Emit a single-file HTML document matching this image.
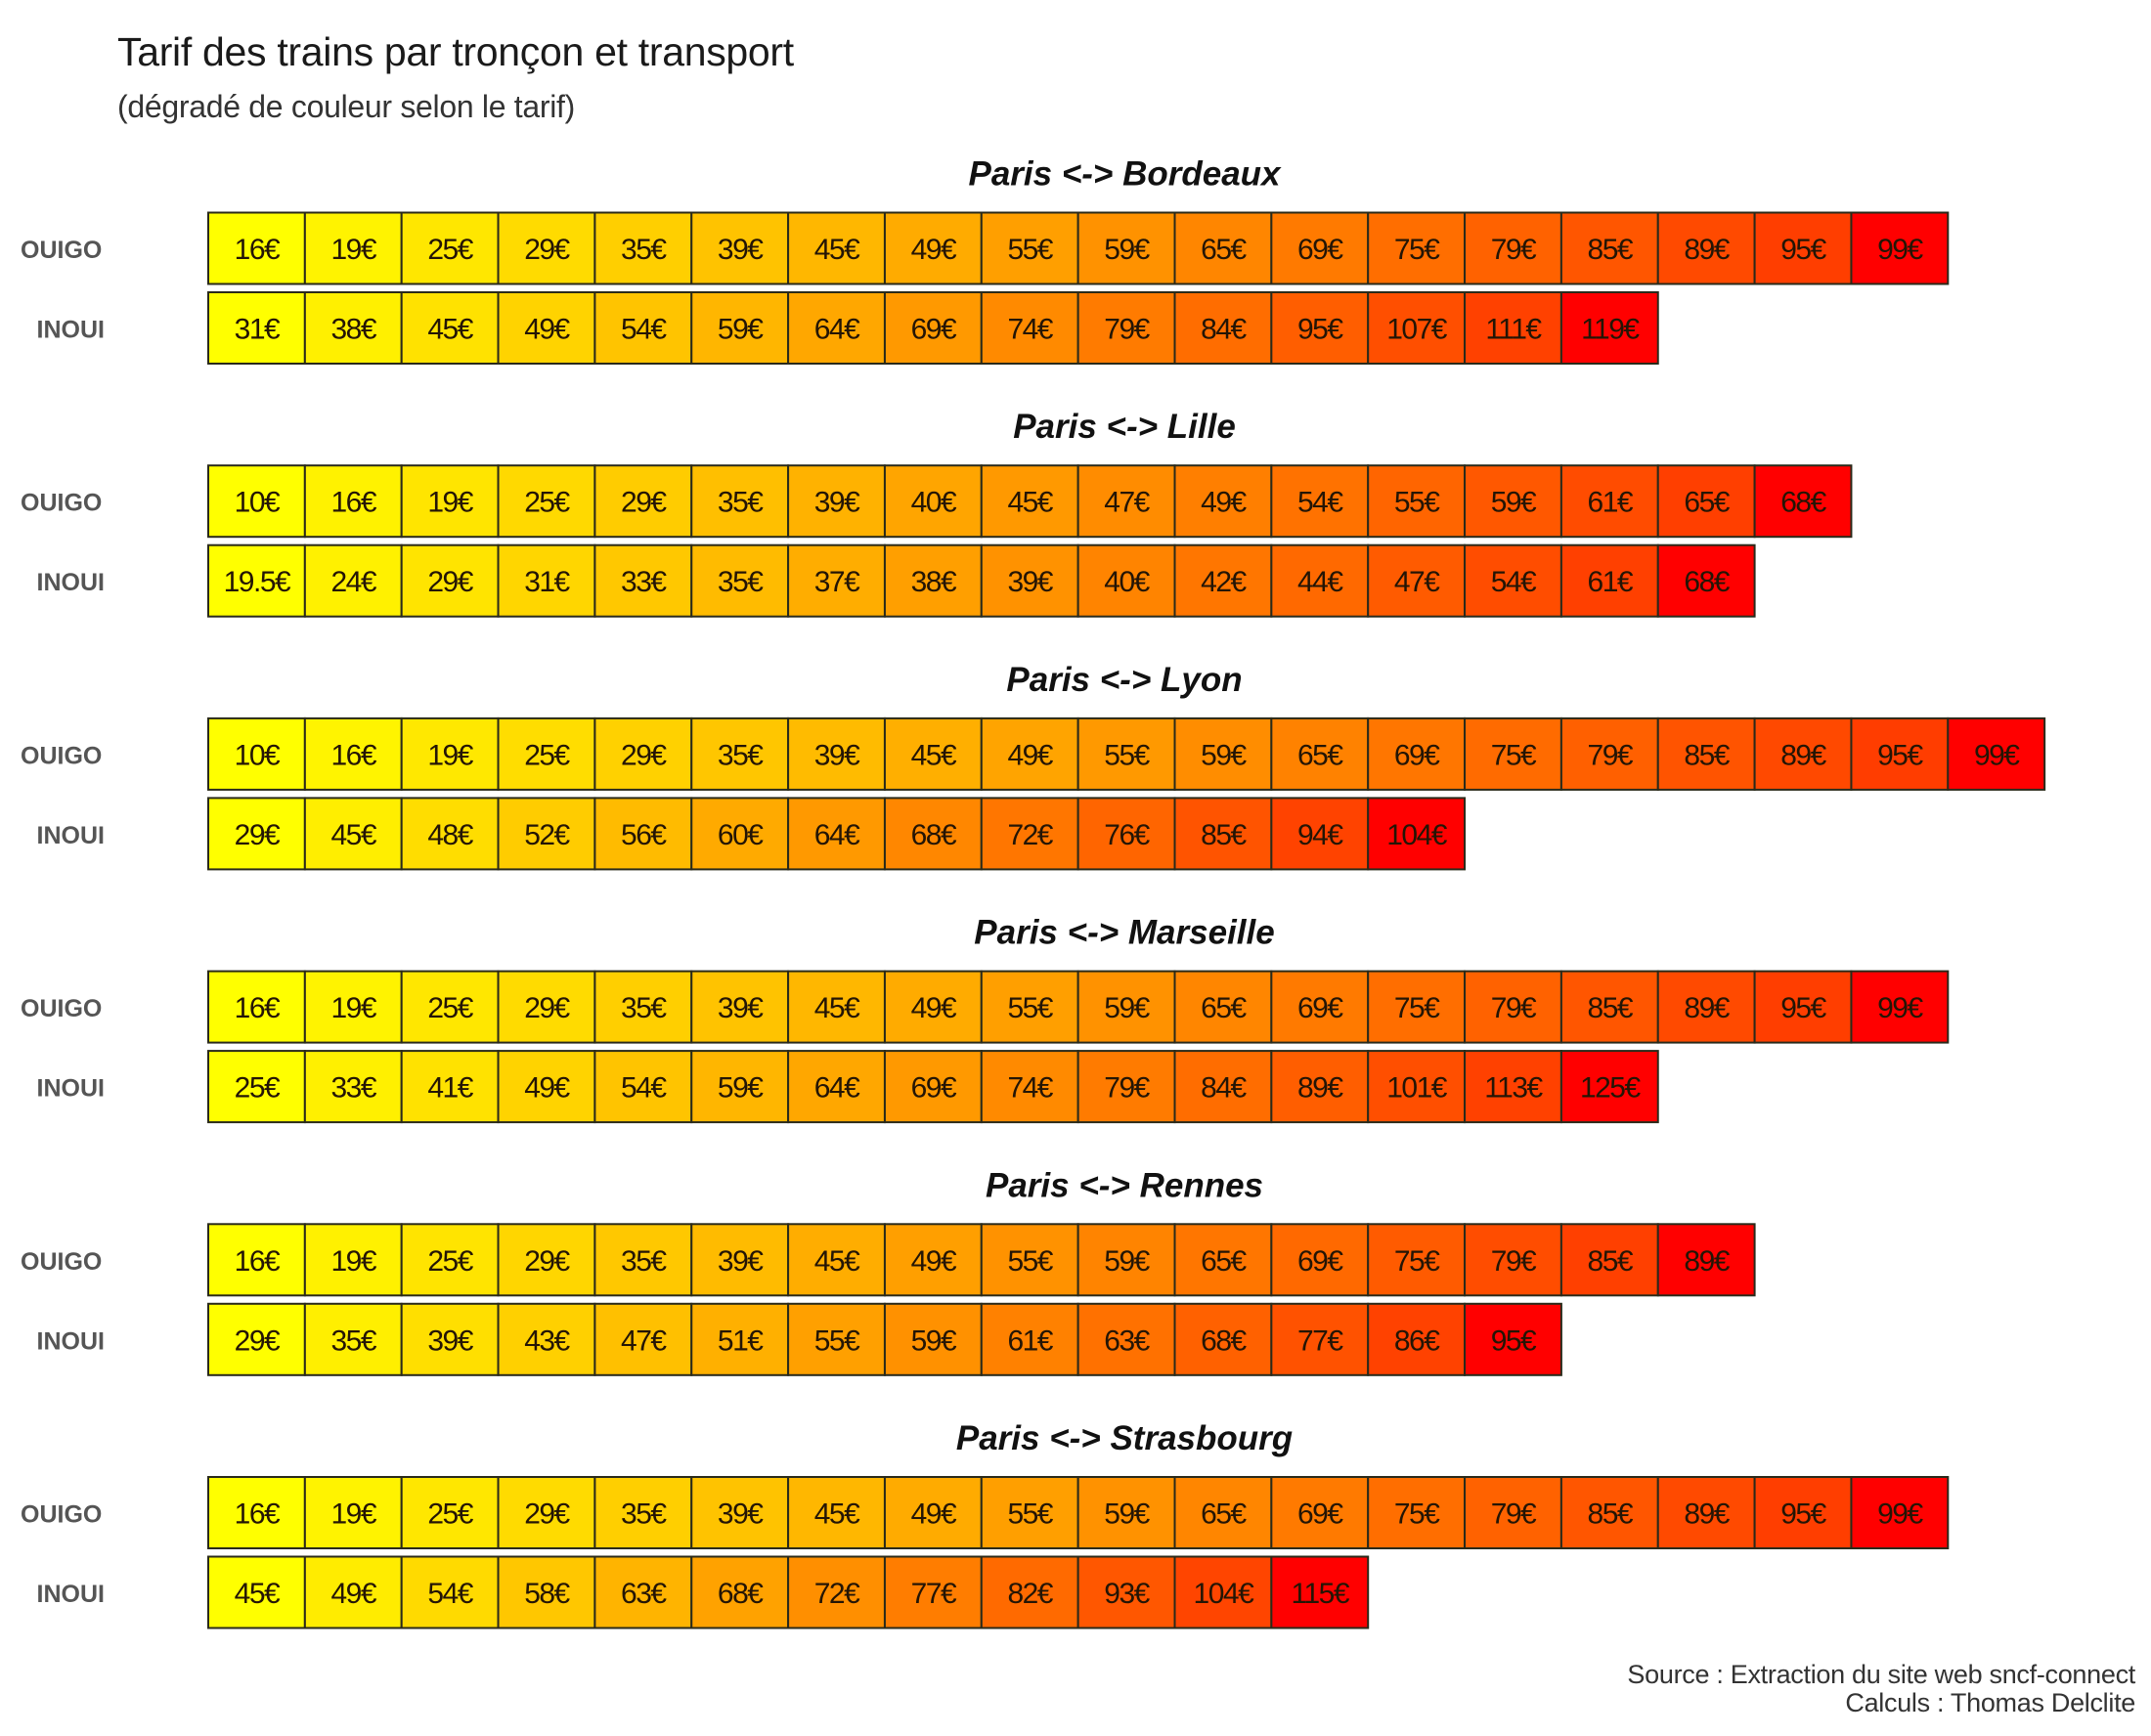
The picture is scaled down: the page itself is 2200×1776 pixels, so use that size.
<!DOCTYPE html>
<html><head><meta charset="utf-8">
<style>
html,body{margin:0;padding:0;background:#fff;}
body{width:2200px;height:1776px;position:relative;overflow:hidden;font-family:"Liberation Sans",Arial,sans-serif;}
.t{position:absolute;white-space:nowrap;}
</style></head>
<body>
<div class="t" style="left:120px;top:30px;font-size:41px;color:#1a1a1a;letter-spacing:-0.3px;">Tarif des trains par tronçon et transport</div>
<div class="t" style="left:120px;top:91px;font-size:32px;color:#333;letter-spacing:-0.3px;">(dégradé de couleur selon le tarif)</div>
<svg id="chart" width="2200" height="1776" style="position:absolute;left:0;top:0;" xmlns="http://www.w3.org/2000/svg"></svg>
<div class="t" style="right:16px;top:1699px;font-size:27px;color:#333;text-align:right;line-height:29px;letter-spacing:-0.3px;">Source : Extraction du site web sncf-connect<br>Calculs : Thomas Delclite</div>
<script>
const routes = ["Paris <-> Bordeaux","Paris <-> Lille","Paris <-> Lyon","Paris <-> Marseille","Paris <-> Rennes","Paris <-> Strasbourg"];
const ouigoBordeaux = ["16","19","25","29","35","39","45","49","55","59","65","69","75","79","85","89","95","99"];
const inouiBordeaux = ["31","38","45","49","54","59","64","69","74","79","84","95","107","111","119"];
const ouigoLille = ["10","16","19","25","29","35","39","40","45","47","49","54","55","59","61","65","68"];
const inouiLille = ["19.5","24","29","31","33","35","37","38","39","40","42","44","47","54","61","68"];
const ouigoLyon = ["10","16","19","25","29","35","39","45","49","55","59","65","69","75","79","85","89","95","99"];
const inouiLyon = ["29","45","48","52","56","60","64","68","72","76","85","94","104"];
const ouigoMarseille = ["16","19","25","29","35","39","45","49","55","59","65","69","75","79","85","89","95","99"];
const inouiMarseille = ["25","33","41","49","54","59","64","69","74","79","84","89","101","113","125"];
const ouigoRennes = ["16","19","25","29","35","39","45","49","55","59","65","69","75","79","85","89"];
const inouiRennes = ["29","35","39","43","47","51","55","59","61","63","68","77","86","95"];
const ouigoStrasbourg = ["16","19","25","29","35","39","45","49","55","59","65","69","75","79","85","89","95","99"];
const inouiStrasbourg = ["45","49","54","58","63","68","72","77","82","93","104","115"];
const ouigoSeries = [ouigoBordeaux,ouigoLille,ouigoLyon,ouigoMarseille,ouigoRennes,ouigoStrasbourg];
const inouiSeries = [inouiBordeaux,inouiLille,inouiLyon,inouiMarseille,inouiRennes,inouiStrasbourg];
const transports = ["OUIGO","INOUI"];

const NS="http://www.w3.org/2000/svg";
const svg=document.getElementById('chart');
const X0=213, CW=98.85, SEC0=217.5, SECSTEP=258.7, RH=73, RGAP=8.5;
function xPos(i){return X0+i*CW;}
function secY(s){return SEC0+s*SECSTEP;}
function rowY(s,r){return secY(s)+r*(RH+RGAP);}
function color(i,n){
  if(i===n-1) return 'rgb(255,0,0)';
  const f=n>1?i/(n-1):0;
  const g=Math.round(255-205*f);
  return `rgb(255,${g},0)`;
}
function mk(tag,attrs){const e=document.createElementNS(NS,tag);for(const k in attrs)e.setAttribute(k,attrs[k]);svg.appendChild(e);return e;}

routes.forEach((rt,s)=>{
  const tt=mk('text',{x:1150,y:secY(s)-28,'text-anchor':'middle','font-size':35,'font-weight':'bold','font-style':'italic',fill:'#111','font-family':'Liberation Sans, sans-serif'});
  tt.textContent=rt;
  
  
  [ouigoSeries[s],inouiSeries[s]].forEach((vals,r)=>{
    const y=rowY(s,r);
    const lab=mk('text',{x:r===0?21:107,y:y+RH/2+10,'text-anchor':r===0?'start':'end','font-size':25,'font-weight':'bold',fill:'#555','font-family':'Liberation Sans, sans-serif'});
    lab.textContent=transports[r];
    
    
    vals.forEach((v,i)=>{
      const rc=mk('rect',{x:xPos(i),y:y,width:CW,height:RH,fill:color(i,vals.length),stroke:'#2a2a1a','stroke-width':2});
      
      
      const tx=mk('text',{x:xPos(i)+CW/2,y:y+RH/2+11,'text-anchor':'middle','font-size':30,fill:'#241505','font-family':'Liberation Sans, sans-serif','letter-spacing':'-1.5'});
      tx.textContent=v+'€';
      
      
    });
  });
});
</script>
</body></html>
